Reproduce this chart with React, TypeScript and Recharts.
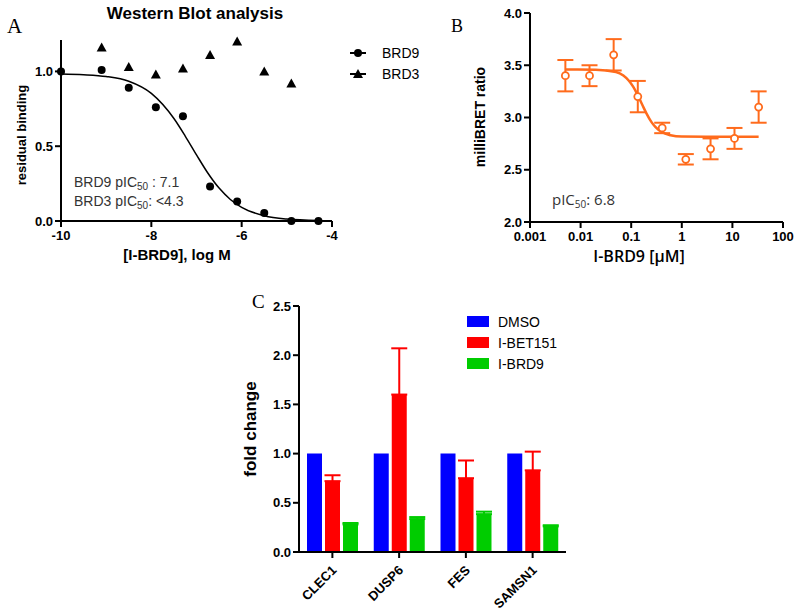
import React from "react";
import {
  ComposedChart,
  BarChart,
  Bar,
  Line,
  Scatter,
  XAxis,
  YAxis,
  ErrorBar,
} from "recharts";

// Panel A: western blot residual binding
const wbDose = [-10, -9.1, -8.5, -7.9, -7.3, -6.7, -6.1, -5.5, -4.9, -4.3];
const brd9Binding = [1.0, 1.01, 0.89, 0.76, 0.7, 0.23, 0.13, 0.054, 0.0, 0.0];
const brd3Dose = [-9.1, -8.5, -7.9, -7.3, -6.7, -6.1, -5.5, -4.9];
const brd3Binding = [1.16, 1.03, 0.98, 1.02, 1.11, 1.2, 1.0, 0.92];
const wbFitDose = [-10, -9.5, -9, -8.5, -8, -7.5, -7.25, -7, -6.75, -6.5, -6.25, -6, -5.5, -5, -4.3];
const wbFitBinding = [0.983, 0.978, 0.966, 0.934, 0.853, 0.685, 0.568, 0.442, 0.321, 0.22, 0.144, 0.091, 0.035, 0.013, 0.003];

// Panel B: NanoBRET
const bretDose = [0.005, 0.015, 0.045, 0.135, 0.41, 1.2, 3.7, 11, 33];
const bretRatio = [3.4, 3.4, 3.6, 3.2, 2.9, 2.6, 2.7, 2.8, 3.1];
const bretErr = [0.15, 0.1, 0.15, 0.15, 0.05, 0.05, 0.1, 0.1, 0.15];
const bretFitDose = [0.005, 0.02, 0.05, 0.07, 0.09, 0.11, 0.13, 0.15, 0.17, 0.2, 0.25, 0.3, 0.4, 0.6, 1, 3, 33];
const bretFitRatio = [3.46, 3.458, 3.436, 3.402, 3.352, 3.293, 3.229, 3.166, 3.11, 3.04, 2.958, 2.91, 2.861, 2.83, 2.817, 2.815, 2.815];

// Panel C: fold change
const genes = ["CLEC1", "DUSP6", "FES", "SAMSN1"];
const dmso = [1, 1, 1, 1];
const ibet151 = [0.72, 1.6, 0.75, 0.83];
const ibet151Err = [0.06, 0.47, 0.18, 0.19];
const ibrd9 = [0.28, 0.335, 0.385, 0.26];
const ibrd9Err = [0.015, 0.02, 0.025, 0.012];

const ORANGE = "#ff6b1c";
const tickStyle = { fontSize: 13, fontWeight: "bold", fill: "#000" };
const axisProps = {
  tick: tickStyle,
  tickSize: 6,
  axisLine: { stroke: "#000", strokeWidth: 2 },
  tickLine: { stroke: "#000", strokeWidth: 2 },
};

const brd9Pts = wbDose.map((x, i) => ({ x, y: brd9Binding[i] }));
const brd3Pts = brd3Dose.map((x, i) => ({ x, y: brd3Binding[i] }));
const wbFit = wbFitDose.map((x, i) => ({ x, y: wbFitBinding[i] }));
const bretPts = bretDose.map((x, i) => ({ x, y: bretRatio[i], err: bretErr[i] }));
const bretFit = bretFitDose.map((x, i) => ({ x, y: bretFitRatio[i] }));
const geneRows = genes.map((gene, i) => ({
  gene,
  dmso: dmso[i],
  ibet: ibet151[i],
  ibetErr: [0, ibet151Err[i]],
  brd9: ibrd9[i],
  brd9Err: [0, ibrd9Err[i]],
}));

const barLegend = [
  { name: "DMSO", color: "#0000ff" },
  { name: "I-BET151", color: "#ff0000" },
  { name: "I-BRD9", color: "#00cc00" },
];

const Dot = (props: any) => <circle cx={props.cx} cy={props.cy} r={4} fill="#000" />;
const Tri = (props: any) => (
  <polygon
    points={`${props.cx},${props.cy - 5} ${props.cx - 5},${props.cy + 4} ${props.cx + 5},${props.cy + 4}`}
    fill="#000"
  />
);
const OpenDot = (props: any) => (
  <circle cx={props.cx} cy={props.cy} r={3.5} fill="#fff" stroke={ORANGE} strokeWidth={1.8} />
);

const GeneTick = (props: any) => {
  const { x, y, payload } = props;
  const tx = x + 5;
  const ty = y + 11;
  return (
    <text x={tx} y={ty} transform={`rotate(-45, ${tx}, ${ty})`} textAnchor="end" fontSize={13} fontWeight="bold" fill="#000">
      {payload.value}
    </text>
  );
};

export default function App() {
  return (
    <div style={{ position: "absolute", left: 0, top: 0, width: 800, height: 613, background: "#fff", fontFamily: "'Liberation Sans', Arial, sans-serif", overflow: "hidden" }}>
      {/* Panel A */}
      <div style={{ position: "absolute", left: 0, top: 0 }}>
        <ComposedChart width={420} height={275} margin={{ top: 40, right: 88, bottom: 24, left: 0 }}>
          <XAxis
            type="number"
            dataKey="x"
            domain={[-10, -4]}
            ticks={[-10, -8, -6, -4]}
            height={30}
            tickMargin={4}
            {...axisProps}
          />
          <YAxis
            type="number"
            dataKey="y"
            domain={[0, 1.21]}
            ticks={[0, 0.5, 1]}
            tickFormatter={(v) => Number(v).toFixed(1)}
            width={61}
            tickMargin={2}
            {...axisProps}
          />
          <Line data={wbFit} dataKey="y" type="monotone" stroke="#000" strokeWidth={1.5} dot={false} isAnimationActive={false} />
          <Scatter data={brd9Pts} dataKey="y" shape={Dot} isAnimationActive={false} />
          <Scatter data={brd3Pts} dataKey="y" shape={Tri} isAnimationActive={false} />
        </ComposedChart>
      </div>

      {/* Panel B */}
      <div style={{ position: "absolute", left: 420, top: 0 }}>
        <ComposedChart width={380} height={275} margin={{ top: 13, right: 17, bottom: 23, left: 0 }}>
          <XAxis
            type="number"
            dataKey="x"
            scale="log"
            domain={[0.001, 100]}
            ticks={[0.001, 0.01, 0.1, 1, 10, 100]}
            tickFormatter={(v) => String(v)}
            allowDataOverflow
            height={30}
            tickMargin={4}
            {...axisProps}
          />
          <YAxis
            type="number"
            dataKey="y"
            domain={[2, 4]}
            ticks={[2, 2.5, 3, 3.5, 4]}
            tickFormatter={(v) => Number(v).toFixed(1)}
            width={110}
            tickMargin={2}
            {...axisProps}
          />
          <Line data={bretFit} dataKey="y" type="monotone" stroke={ORANGE} strokeWidth={2.5} dot={false} isAnimationActive={false} />
          <Scatter data={bretPts} dataKey="y" shape={OpenDot} isAnimationActive={false}>
            <ErrorBar dataKey="err" direction="y" width={8} stroke={ORANGE} strokeWidth={2} />
          </Scatter>
        </ComposedChart>
      </div>

      {/* Panel C */}
      <div style={{ position: "absolute", left: 200, top: 290 }}>
        <BarChart width={380} height={323} data={geneRows} margin={{ top: 16, right: 14, bottom: 0, left: 0 }} barSize={15} barGap={3}>
          <XAxis dataKey="gene" height={61} interval={0} {...axisProps} tick={<GeneTick />} />
          <YAxis
            domain={[0, 2.5]}
            ticks={[0, 0.5, 1, 1.5, 2, 2.5]}
            tickFormatter={(v) => Number(v).toFixed(1)}
            width={99}
            tickMargin={2}
            {...axisProps}
          />
          <Bar dataKey="dmso" fill="#0000ff" isAnimationActive={false} />
          <Bar dataKey="ibet" fill="#ff0000" isAnimationActive={false}>
            <ErrorBar dataKey="ibetErr" direction="y" width={8} stroke="#ff0000" strokeWidth={2} />
          </Bar>
          <Bar dataKey="brd9" fill="#00cc00" isAnimationActive={false}>
            <ErrorBar dataKey="brd9Err" direction="y" width={8} stroke="#00cc00" strokeWidth={2} />
          </Bar>
        </BarChart>
      </div>

      {/* text overlay: panel letters, titles, axis labels, legends, annotations */}
      <svg width={800} height={613} style={{ position: "absolute", left: 0, top: 0, pointerEvents: "none" }}>
        <g fontFamily="'Liberation Serif', 'Times New Roman', serif" fill="#000">
          <text x={7} y={33} fontSize={21}>A</text>
          <text x={451} y={32} fontSize={18}>B</text>
          <text x={252} y={308} fontSize={19}>C</text>
        </g>
        <text x={195} y={19} textAnchor="middle" fontSize={17} fontWeight="bold">Western Blot analysis</text>
        <text transform="translate(23,135) rotate(-90)" textAnchor="middle" dominantBaseline="middle" fontSize={13} fontWeight="bold">residual binding</text>
        <text x={177} y={260} textAnchor="middle" fontSize={15} fontWeight="bold">[I-BRD9], log M</text>
        <text x={74} y={187} fontSize={14} fill="#333">
          BRD9 pIC<tspan fontSize={10} dy={3}>50</tspan><tspan dy={-3}> : 7.1</tspan>
        </text>
        <text x={74} y={206} fontSize={14} fill="#333">
          BRD3 pIC<tspan fontSize={10} dy={3}>50</tspan><tspan dy={-3}>: &lt;4.3</tspan>
        </text>
        {/* legend A */}
        <line x1={350} x2={366} y1={53} y2={53} stroke="#000" strokeWidth={2} />
        <circle cx={358} cy={53} r={4} fill="#000" />
        <text x={382} y={58} fontSize={14}>BRD9</text>
        <line x1={350} x2={366} y1={74} y2={74} stroke="#000" strokeWidth={2} />
        <polygon points="358,69 353,78 363,78" fill="#000" />
        <text x={382} y={79} fontSize={14}>BRD3</text>

        <text transform="translate(481,117) rotate(-90)" textAnchor="middle" dominantBaseline="middle" fontSize={14} fontWeight="bold">milliBRET ratio</text>
        <text x={552} y={205} fontSize={15} fill="#333" fontFamily="'Open Sans', sans-serif">
          pIC<tspan fontSize={10} dy={3}>50</tspan><tspan dy={-3}>: 6.8</tspan>
        </text>
        <text x={639} y={262} textAnchor="middle" fontSize={16} fontWeight={600} fontFamily="'Open Sans', sans-serif">I-BRD9 [µM]</text>

        <text transform="translate(252,429) rotate(-90)" textAnchor="middle" dominantBaseline="middle" fontSize={17} fontWeight="bold">fold change</text>
        {/* legend C */}
        {barLegend.map((d, i) => (
          <g key={d.name}>
            <rect x={467} y={316 + i * 21} width={22} height={11} fill={d.color} />
            <text x={498} y={327 + i * 21} fontSize={14}>{d.name}</text>
          </g>
        ))}
      </svg>
    </div>
  );
}
